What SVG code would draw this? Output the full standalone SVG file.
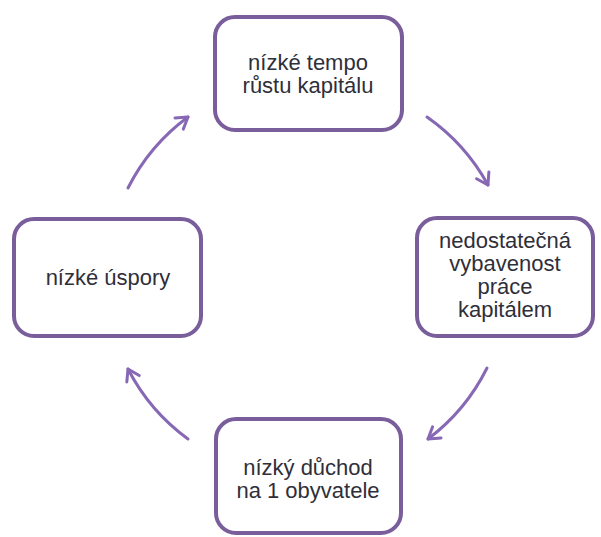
<svg xmlns="http://www.w3.org/2000/svg" width="601" height="537" viewBox="0 0 601 537">
<style>
.box{fill:#fff;stroke:#7a5e9c;stroke-width:4}
.lbl{font-family:"Liberation Sans",Arimo,Arial,Helvetica,sans-serif;font-size:22px;fill:#2f2f3a;text-anchor:middle}
.arr{fill:none;stroke:#8668b4;stroke-width:3;stroke-linecap:round}
</style>
<defs>
<marker id="ah" markerUnits="userSpaceOnUse" markerWidth="30" markerHeight="30" refX="0" refY="0" viewBox="-15 -15 30 30" orient="auto">
<path d="M-11,-7 L0,0 L-11,7" fill="none" stroke="#8668b4" stroke-width="3" stroke-linecap="round" stroke-linejoin="round"/>
</marker>
</defs>
<rect width="601" height="537" fill="#fff"/>
<g id="connectors">
<path class="arr" d="M128,188 A200,200 0 0 1 188,117" marker-end="url(#ah)"/>
<path class="arr" d="M427,117 A200,200 0 0 1 488,185" marker-end="url(#ah)"/>
<path class="arr" d="M487,368 A200,200 0 0 1 428,439" marker-end="url(#ah)"/>
<path class="arr" d="M188,439 A200,200 0 0 1 128,369" marker-end="url(#ah)"/>
</g>
<g id="n1">
<rect class="box" x="215" y="17" width="187" height="113" rx="20"/>
<text class="lbl" x="308" y="70">nízké tempo</text>
<text class="lbl" x="308" y="93">růstu kapitálu</text>
</g>
<g id="n2">
<rect class="box" x="417" y="218" width="176" height="118" rx="20"/>
<text class="lbl" x="505" y="248">nedostatečná</text>
<text class="lbl" x="505" y="271">vybavenost</text>
<text class="lbl" x="505" y="294">práce</text>
<text class="lbl" x="505" y="317">kapitálem</text>
</g>
<g id="n3">
<rect class="box" x="216" y="419" width="185" height="114" rx="20"/>
<text class="lbl" x="308" y="475">nízký důchod</text>
<text class="lbl" x="308" y="498">na 1 obyvatele</text>
</g>
<g id="n4">
<rect class="box" x="14" y="219" width="187" height="117" rx="20"/>
<text class="lbl" x="108" y="285">nízké úspory</text>
</g>
</svg>
